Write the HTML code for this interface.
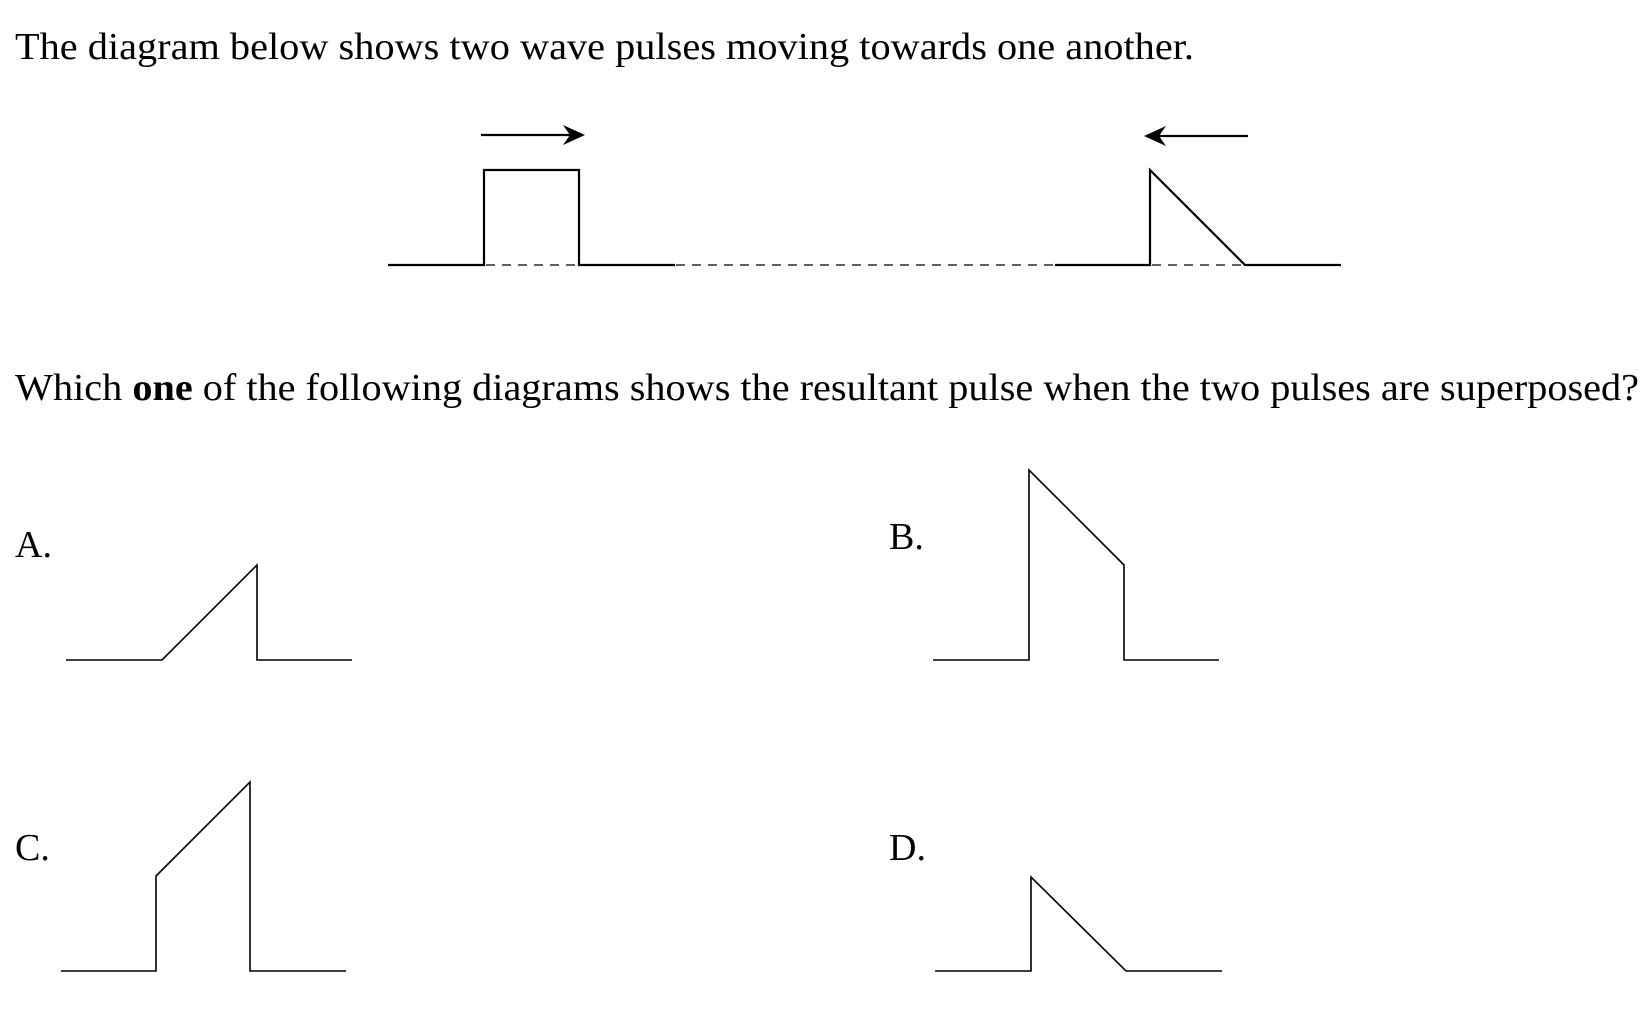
<!DOCTYPE html>
<html><head><meta charset="utf-8"><style>
html,body{margin:0;padding:0;background:#fff;}
svg{display:block;}
text{font-family:"Liberation Serif",serif;fill:#000;}
</style></head><body>
<svg width="1649" height="1020" viewBox="0 0 1649 1020" xmlns="http://www.w3.org/2000/svg">
<text x="15" y="59" font-size="38" textLength="1179" lengthAdjust="spacingAndGlyphs">The diagram below shows two wave pulses moving towards one another.</text>
<text x="15" y="400" font-size="38" textLength="1624" lengthAdjust="spacingAndGlyphs">Which <tspan font-weight="bold">one</tspan> of the following diagrams shows the resultant pulse when the two pulses are superposed?</text>
<text x="15" y="557" font-size="38">A.</text>
<text x="889" y="549" font-size="38">B.</text>
<text x="15" y="860" font-size="38">C.</text>
<text x="889" y="860" font-size="38">D.</text>

<g stroke="#000" fill="none" stroke-width="2.2">
<line x1="481" y1="135" x2="578" y2="135"/>
<line x1="1150" y1="136" x2="1248" y2="136"/>
<polyline points="388,265 484,265 484,170 579,170 579,265 675,265"/>
<polyline points="1055,265 1150,265 1150,170 1245,265 1341,265"/>
<g stroke-dasharray="9,7" stroke-width="1.3">
<line x1="486" y1="265" x2="578" y2="265"/>
<line x1="676" y1="265" x2="1055" y2="265"/>
<line x1="1152" y1="265" x2="1244" y2="265"/>
</g>
</g>
<path d="M563 125 L585 135 L563 145 L570 135 Z" fill="#000"/>
<path d="M1166 126 L1144 136 L1166 146 L1159 136 Z" fill="#000"/>
<g stroke="#000" fill="none" stroke-width="1.6">
<polyline points="66,660 162,660 257,565 257,660 352,660"/>
<polyline points="933,660 1029,660 1029,470 1124,565 1124,660 1219,660"/>
<polyline points="61,971 156,971 156,876 250,782 250,971 346,971"/>
<polyline points="935,971 1031,971 1031,877 1126,971 1222,971"/>
</g>
</svg>
</body></html>
